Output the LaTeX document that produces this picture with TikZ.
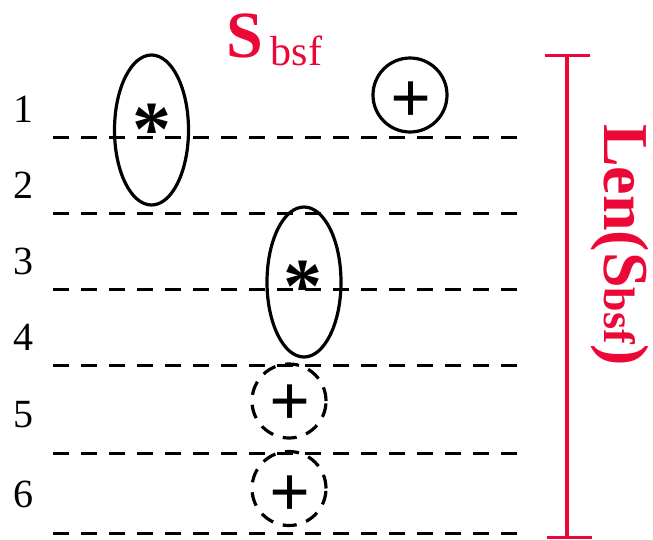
\documentclass[tikz,border=0pt]{standalone}
\usepackage{fontspec}
\setmainfont{Liberation Serif}
\usetikzlibrary{shapes.geometric}
\definecolor{lenred}{RGB}{236,8,54}
\begin{document}
\begin{tikzpicture}[x=1pt,y=-1pt,
  level/.style={draw, line width=3pt, dash pattern=on 16pt off 12pt},
  num/.style={anchor=base, inner sep=0pt, font=\fontsize{40}{40}\selectfont},
  oval/.style={ellipse, draw, line width=3.2pt, minimum width=74pt, minimum height=150pt, inner sep=0pt},
  ring/.style={circle, draw, line width=3.2pt, minimum size=74pt, inner sep=0pt},
  dring/.style={ring, dash pattern=on 14pt off 10pt},
  plussign/.style={inner sep=0pt, font=\bfseries\fontsize{72}{72}\selectfont},
  starsign/.style={anchor=base, inner sep=0pt, font=\bfseries\fontsize{78}{78}\selectfont},
  redtext/.style={inner sep=0pt, text=lenred},
]
\useasboundingbox (0,0) rectangle (653,539);
% dashed levels
\foreach \i/\y in {1/137,2/213,3/289,4/365,5/453,6/533}{
  \coordinate (la\i) at (53,\y);
  \coordinate (lb\i) at (517,\y);
  \draw[level] (la\i) -- (lb\i);
}
% numbers
\node[num] (n1) at (23,122) {1};
\node[num] (n2) at (23,198) {2};
\node[num] (n3) at (23,274) {3};
\node[num] (n4) at (23,350) {4};
\node[num] (n5) at (23,427) {5};
\node[num] (n6) at (23,507) {6};
% ellipses with asterisks
\node[oval] (e1) at (151.5,130) {};
\node[starsign] (s1) at (152,155) {*};
\node[oval] (e2) at (304,282) {};
\node[starsign] (s2) at (302.5,312) {*};
% circles with plus signs
\node[ring] (c1) at (410,95) {};
\node[plussign] (p1) at (411,102.5) {+};
\node[dring] (c2) at (289,401) {};
\node[plussign] (p2) at (290,405) {+};
\node[dring] (c3) at (289,488.5) {};
\node[plussign] (p3) at (290,496) {+};
% top label
\node[redtext, anchor=base west] (sbsf) at (226,57)
  {\bfseries\fontsize{66}{66}\selectfont S\hspace{8pt}\raisebox{-8pt}{\mdseries\fontsize{42}{42}\selectfont bsf}};
% length bar
\coordinate (bt) at (567,55);
\coordinate (bb) at (567,537);
\coordinate (btl) at (545,55);
\coordinate (btr) at (590,55);
\coordinate (bbl) at (547,537);
\coordinate (bbr) at (592,537);
\draw[lenred, line width=4.3pt] (bt) -- (bb);
\draw[lenred, line width=3pt] (btl) -- (btr);
\draw[lenred, line width=3pt] (bbl) -- (bbr);
\node[redtext, rotate=-90, anchor=base west] (len) at (604,124)
  {\bfseries\fontsize{64}{64}\selectfont Len(S{\fontsize{44}{44}\selectfont bsf})};
\end{tikzpicture}
\end{document}
